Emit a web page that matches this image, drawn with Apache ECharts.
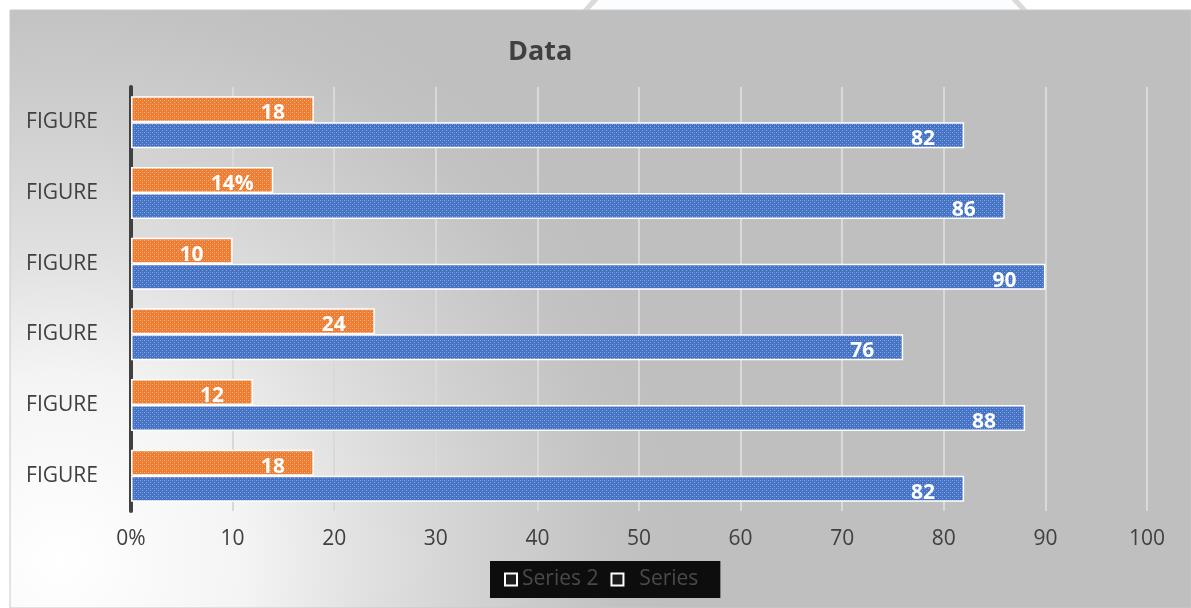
<!DOCTYPE html>
<html>
<head>
<meta charset="utf-8">
<script src="https://cdn.jsdelivr.net/npm/echarts@6/dist/echarts.min.js"></script>
<style>
  html, body { margin: 0; padding: 0; background: #ffffff; }
  #chart { width: 1191px; height: 608px; }
</style>
</head>
<body>
<div id="chart"></div>
<script>
// data
const categories = ['FIGURE', 'FIGURE', 'FIGURE', 'FIGURE', 'FIGURE', 'FIGURE'];
const seriesValues = [18, 14, 10, 24, 12, 18];
const seriesLabels = ['18', '14%', '10', '24', '12', '18'];
const series2Values = [82, 86, 90, 76, 88, 82];
const xTicks = [0, 10, 20, 30, 40, 50, 60, 70, 80, 90, 100];

// small dotted fill like the office pattern fill
function dotPattern(base) {
    const c = document.createElement('canvas');
    c.width = 4; c.height = 4;
    const g = c.getContext('2d');
    g.fillStyle = base;
    g.fillRect(0, 0, 4, 4);
    g.fillStyle = 'rgba(255,255,255,0.4)';
    g.fillRect(0, 0, 1, 1);
    g.fillRect(2, 2, 1, 1);
    g.fillStyle = 'rgba(255,255,255,0.18)';
    g.fillRect(2, 0, 1, 1);
    return c;
}

const chart = echarts.init(document.getElementById('chart'), null, {renderer: 'canvas'});
const font = '"Open Sans", "Noto Sans", sans-serif';

const labelStyle = {
    show: true,
    position: 'insideRight',
    distance: 0,
    align: 'center',
    offset: [-41, 4],
    color: '#ffffff',
    fontWeight: 'bold',
    fontSize: 21,
    fontFamily: font
};

chart.setOption({
    animation: false,
    backgroundColor: '#ffffff',
    graphic: [
        // faint circle behind the chart box
        {type: 'circle', z: -120, silent: true, shape: {cx: 805, cy: 200, r: 290},
         style: {fill: '#fbfdfe', stroke: '#dadada', lineWidth: 5}},
        // chart area with light patch at bottom left
        {type: 'rect', z: -100, silent: true, shape: {x: 10, y: 10, width: 1181, height: 598},
         style: {
            fill: {type: 'radial', x: 60, y: 560, r: 620, global: true, colorStops: [
                {offset: 0, color: '#ffffff'},
                {offset: 0.3, color: '#f4f4f4'},
                {offset: 0.5, color: '#e0e0e0'},
                {offset: 0.7, color: '#d0d0d0'},
                {offset: 0.9, color: '#c2c2c2'},
                {offset: 1, color: '#bfbfbf'}
            ]},
            stroke: '#c8c8c8', lineWidth: 1
         }}
    ],
    title: {
        text: 'Data',
        left: 503,
        top: 34,
        textStyle: {fontSize: 27, fontWeight: 'bold', color: '#404040',
            fontFamily: '"Liberation Sans Narrow", "Open Sans", sans-serif'}
    },
    legend: {
        data: ['Series 2', 'Series'],
        left: 490,
        top: 561,
        padding: [8, 22, 8, 14],
        backgroundColor: '#0d0d0d',
        itemWidth: 12,
        itemHeight: 12,
        itemGap: 12,
        icon: 'rect',
        itemStyle: {color: '#1c1c1c', borderColor: '#ffffff', borderWidth: 2},
        formatter: name => name === 'Series' ? '  ' + name : name,
        textStyle: {color: '#4a4a4a', fontSize: 21, fontFamily: font}
    },
    grid: {left: 131, right: 44, top: 87, bottom: 97, containLabel: false},
    xAxis: {
        type: 'value',
        min: 0,
        max: 100,
        interval: 10,
        axisLine: {show: false},
        axisTick: {show: false},
        splitLine: {show: true, lineStyle: {color: '#d9d9d9', width: 2}},
        axisLabel: {
            margin: 18,
            color: '#404040',
            fontSize: 21,
            fontFamily: font,
            formatter: v => xTicks.indexOf(v) === 0 ? '0%' : String(v)
        }
    },
    yAxis: {
        type: 'category',
        inverse: true,
        data: categories,
        axisLine: {show: true, lineStyle: {color: '#404040', width: 4}},
        axisTick: {show: false},
        axisLabel: {margin: 33, color: '#404040', fontSize: 21, fontFamily: font}
    },
    series: [
        {
            name: 'Series',
            type: 'bar',
            data: seriesValues,
            barWidth: 26,
            barGap: '0%',
            itemStyle: {color: {image: dotPattern('#ed7d31'), repeat: 'repeat'}, borderColor: '#ffffff', borderWidth: 1.5},
            label: Object.assign({}, labelStyle, {formatter: p => seriesLabels[p.dataIndex]}),
            z: 3
        },
        {
            name: 'Series 2',
            type: 'bar',
            data: series2Values,
            barWidth: 26,
            barGap: '0%',
            itemStyle: {color: {image: dotPattern('#4472c4'), repeat: 'repeat'}, borderColor: '#ffffff', borderWidth: 1.5},
            label: Object.assign({}, labelStyle),
            z: 3
        }
    ]
});
window.addEventListener('resize', () => chart.resize());
</script>
</body>
</html>
